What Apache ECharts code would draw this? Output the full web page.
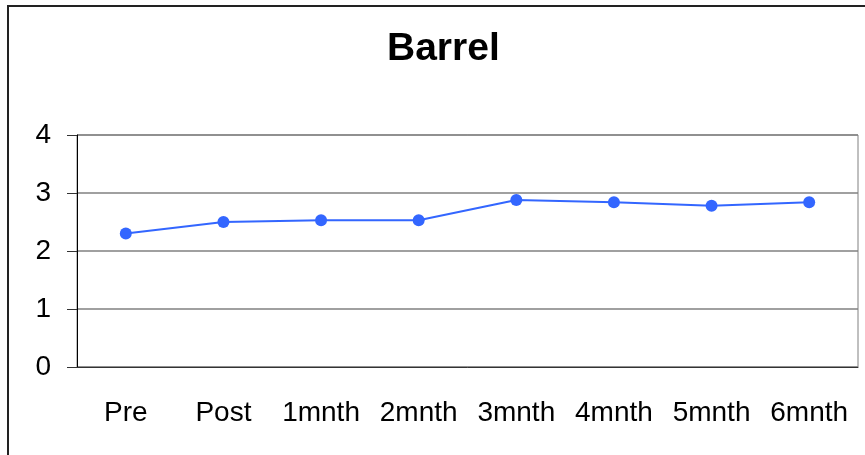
<!DOCTYPE html>
<html>
<head>
<meta charset="UTF-8">
<title>Barrel</title>
<script src="https://cdn.jsdelivr.net/npm/echarts@6/dist/echarts.min.js"></script>
<style>
    html, body { margin: 0; padding: 0; background: #fff; }
    #main { width: 865px; height: 455px; }
</style>
</head>
<body>
<div id="main"></div>
<script>
    // data
    var categories = ['Pre', 'Post', '1mnth', '2mnth', '3mnth', '4mnth', '5mnth', '6mnth'];
    var barrel = [2.30, 2.50, 2.53, 2.53, 2.88, 2.84, 2.78, 2.84];
    var yTicks = [0, 1, 2, 3, 4];

    var font = "'Liberation Sans', Arial, sans-serif";
    var chart = echarts.init(document.getElementById('main'));

    var option = {
        animation: false,
        backgroundColor: '#fff',
        title: {
            text: 'Barrel',
            left: 387,
            top: 30,
            padding: 0,
            textStyle: { fontFamily: font, fontSize: 39, fontWeight: 'bold', color: '#000' }
        },
        graphic: [{
            type: 'rect',
            shape: { x: 8, y: 6, width: 900, height: 500 },
            style: { fill: 'none', stroke: '#222', lineWidth: 2 },
            silent: true
        }],
        grid: {
            left: 77, right: 7, top: 135, bottom: 88,
            show: true, borderColor: '#808080', borderWidth: 1
        },
        xAxis: {
            type: 'category',
            data: categories,
            boundaryGap: true,
            axisLine: { lineStyle: { color: '#333', width: 1 } },
            axisTick: { length: 9, lineStyle: { color: '#333' } },
            axisLabel: { margin: 32, fontFamily: font, fontSize: 28, color: '#000', interval: 0 }
        },
        yAxis: {
            type: 'value',
            min: yTicks[0],
            max: yTicks[yTicks.length - 1],
            interval: 1,
            axisLine: { show: true, lineStyle: { color: '#000', width: 1 } },
            axisTick: { show: true, length: 10, lineStyle: { color: '#333' } },
            axisLabel: { margin: 26, fontFamily: font, fontSize: 28, color: '#000' },
            splitLine: { lineStyle: { color: '#808080', width: 1.5 } }
        },
        series: [{
            type: 'line',
            data: barrel,
            symbol: 'circle',
            symbolSize: 12,
            lineStyle: { color: '#3366FF', width: 2 },
            itemStyle: { color: '#3366FF' }
        }]
    };
    chart.setOption(option);
</script>
</body>
</html>
